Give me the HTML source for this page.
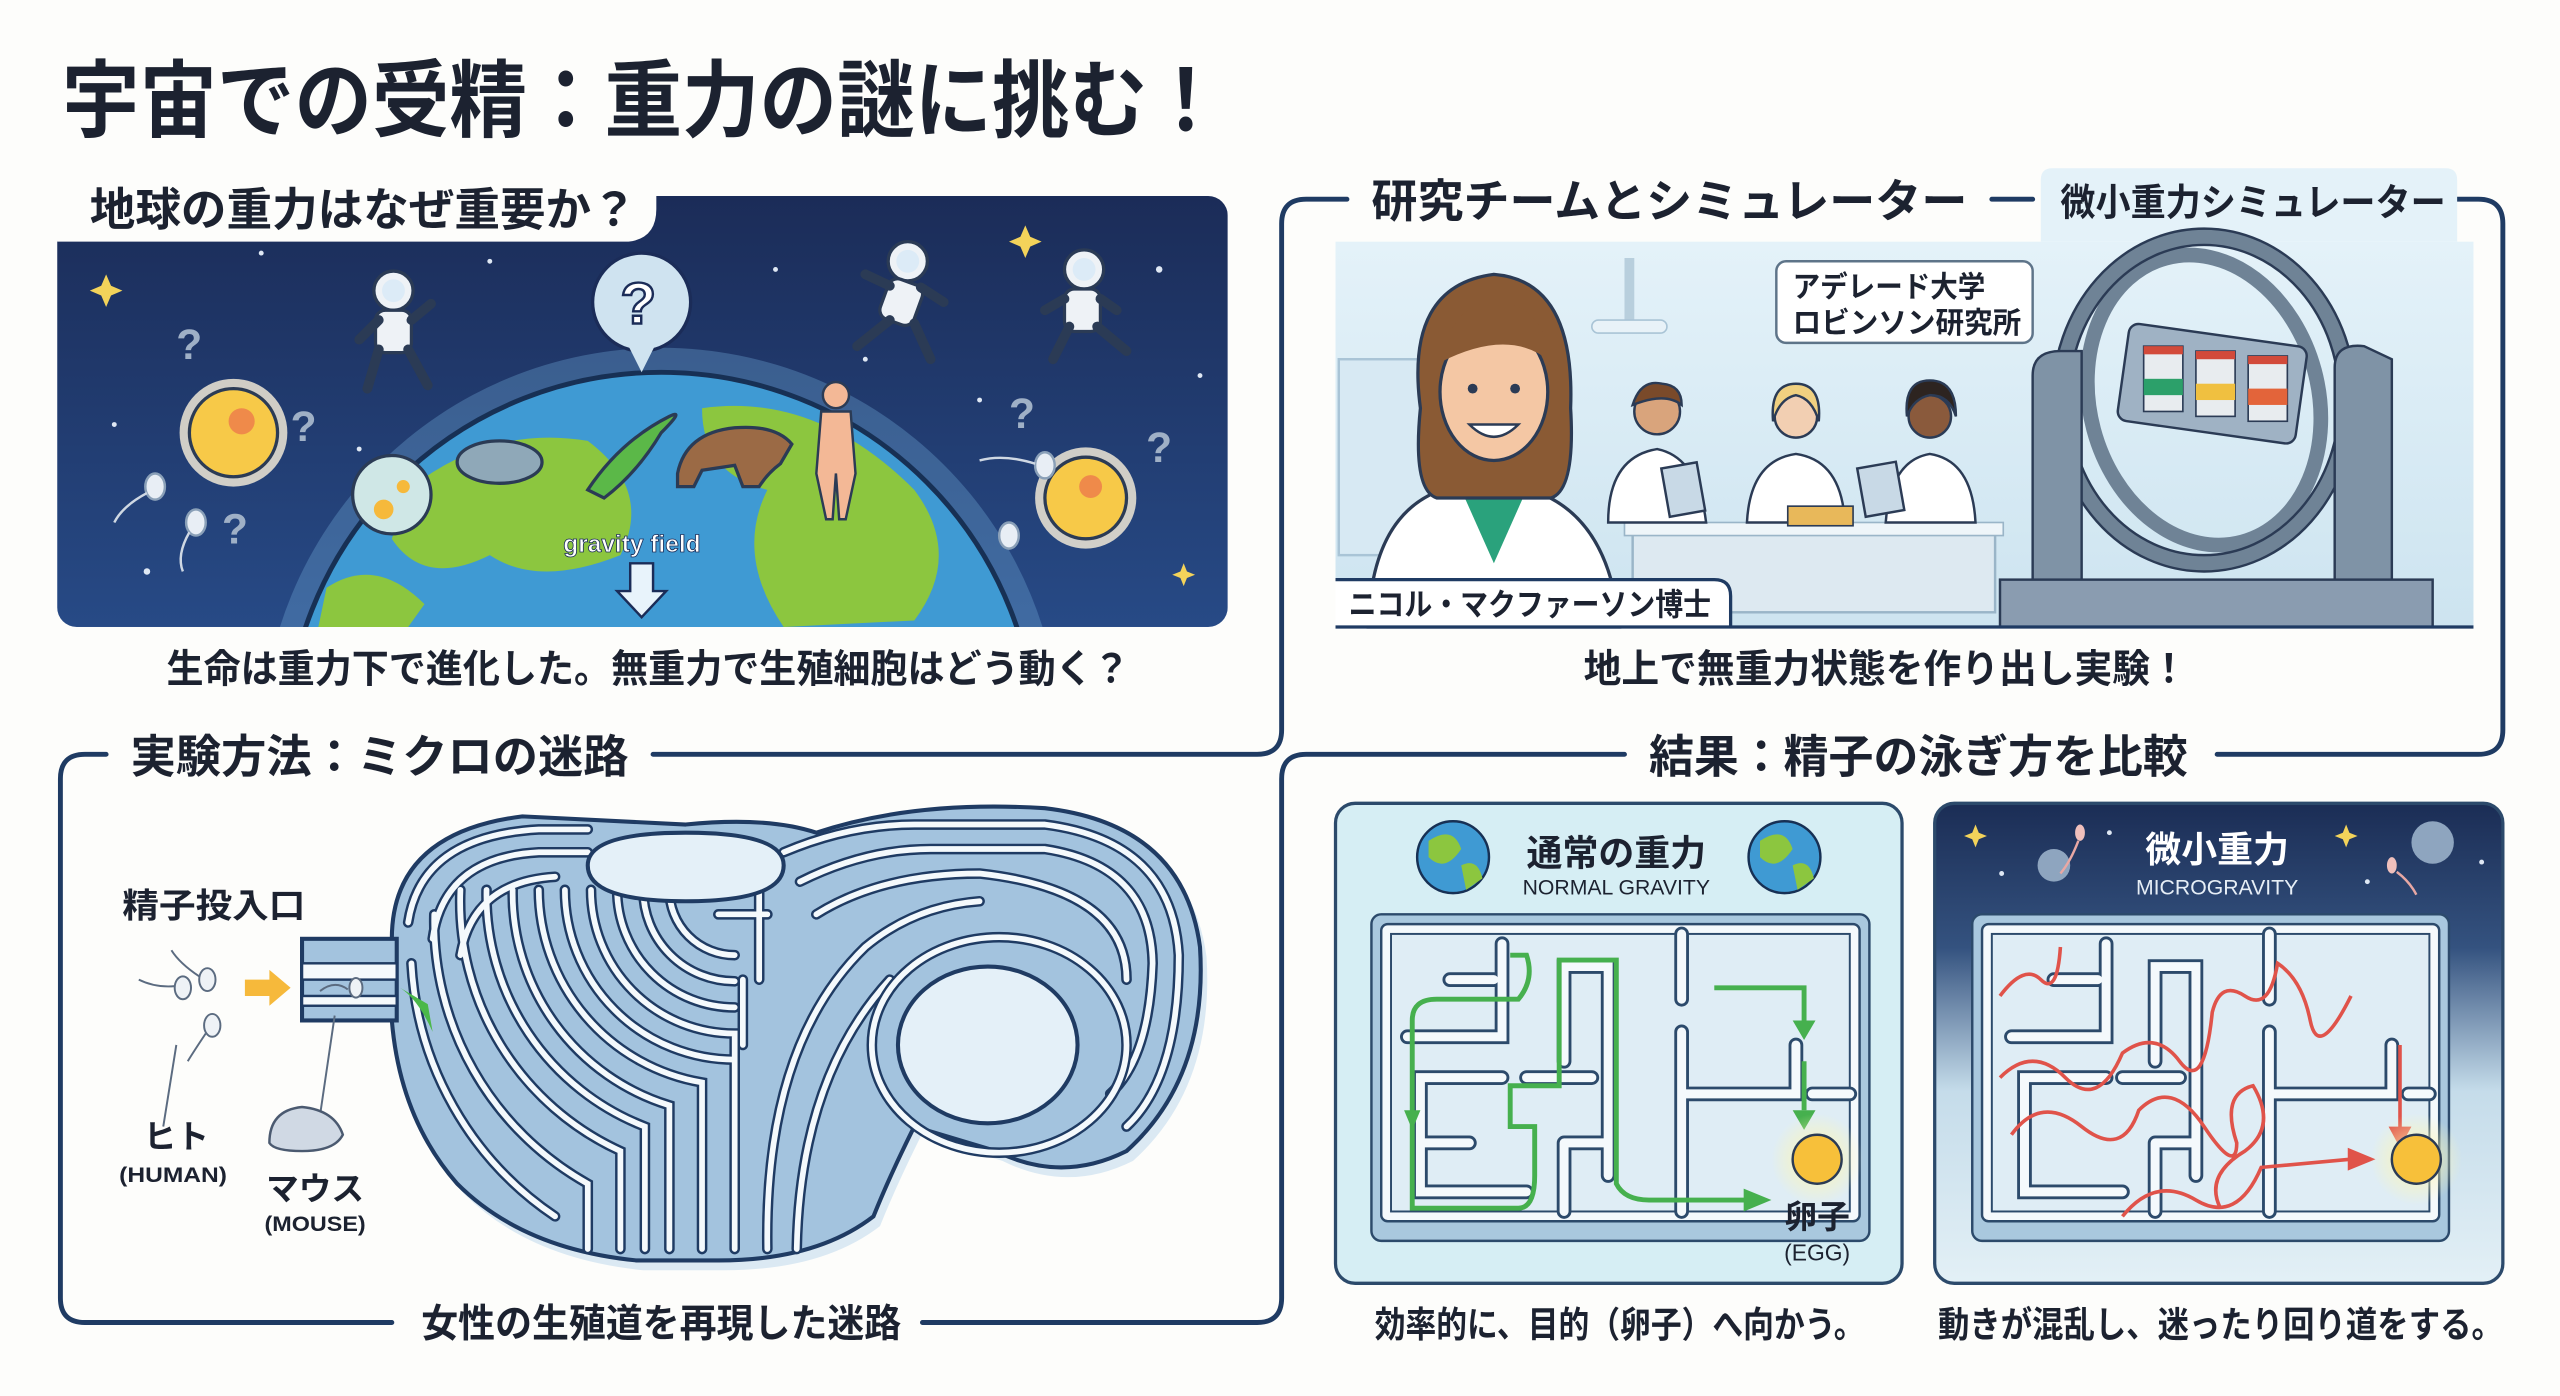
<!DOCTYPE html>
<html><head><meta charset="utf-8"><style>
html,body{margin:0;padding:0;background:#fdfdfb;}
svg{display:block}
text{font-family:"Liberation Sans","Noto Sans CJK JP",sans-serif;font-weight:bold;fill:#1c2230}
</style></head><body>
<svg width="2560" height="1396" viewBox="0 0 1568 855" xmlns="http://www.w3.org/2000/svg">
<defs>
<linearGradient id="space" x1="0" y1="0" x2="0" y2="1"><stop offset="0" stop-color="#1b2c58"/><stop offset="1" stop-color="#274a86"/></linearGradient>
<linearGradient id="lab" x1="0" y1="0" x2="0" y2="1"><stop offset="0" stop-color="#e4f2f9"/><stop offset="1" stop-color="#cde4f0"/></linearGradient>
<linearGradient id="micro" x1="0" y1="0" x2="0" y2="1"><stop offset="0" stop-color="#1b2d55"/><stop offset="0.3" stop-color="#34527f"/><stop offset="0.6" stop-color="#c5dcea"/><stop offset="1" stop-color="#e3f0f6"/></linearGradient>
<radialGradient id="glow"><stop offset="0" stop-color="#fff7b0"/><stop offset="1" stop-color="#fff7b0" stop-opacity="0"/></radialGradient>
<clipPath id="p1"><rect x="35" y="120" width="717" height="264" rx="12"/></clipPath>
</defs>
<rect width="1568" height="855" fill="#fdfdfb"/>

<text x="38" y="80" font-size="52" textLength="712" lengthAdjust="spacingAndGlyphs">宇宙での受精：重力の謎に挑む！</text>

<!-- Panel 1 -->
<g clip-path="url(#p1)">
<rect x="35" y="120" width="717" height="264" fill="url(#space)"/>
<circle cx="405" cy="458" r="245" fill="#6fa8d8" opacity="0.35"/>
<circle cx="405" cy="458" r="230" fill="#3f9ad3" stroke="#173054" stroke-width="3"/>
<path d="M250 300 Q300 260 360 270 Q400 300 380 340 Q330 360 300 340 Q260 360 240 330 Z" fill="#8cc63f"/>
<path d="M430 250 Q500 240 560 300 Q590 340 560 380 L480 384 Q450 340 470 300 Q430 290 430 250Z" fill="#8cc63f"/>
<path d="M200 360 Q230 340 260 370 L250 384 L195 384Z" fill="#8cc63f"/>
<circle cx="240" cy="303" r="24" fill="#cfe7e6" stroke="#2b3b55" stroke-width="2"/>
<circle cx="235" cy="312" r="6" fill="#f6b93b"/><circle cx="247" cy="298" r="4" fill="#f6b93b"/>
<ellipse cx="306" cy="283" rx="26" ry="13" fill="#8fa8b8" stroke="#2b3b55" stroke-width="2"/>
<path d="M360 300 Q380 270 410 255 Q420 250 405 265 Q390 290 370 305 Z" fill="#5bb848" stroke="#2b3b55" stroke-width="2"/>
<path d="M415 290 Q420 265 450 262 Q475 260 485 272 L478 284 Q470 290 465 298 L455 298 L450 285 L430 288 L425 298 L415 298Z" fill="#9b6a45" stroke="#2b3b55" stroke-width="2"/>
<circle cx="512" cy="242" r="8" fill="#f3b896" stroke="#2b3b55" stroke-width="1.5"/>
<path d="M503 252 H521 L524 290 L518 318 H514 L512 290 L510 318 H506 L500 290Z" fill="#f3b896" stroke="#2b3b55" stroke-width="1.5"/>
<text x="345" y="338" font-size="15" style="fill:#fff" stroke="#1b2c58" stroke-width="0.5">gravity field</text>
<path d="M386 345 H400 V362 H408 L393 378 L378 362 H386Z" fill="#e8f3fb" stroke="#1b2c58" stroke-width="1.5"/>
</g>
<path d="M30 100 H388 Q402 100 402 114 V128 Q402 146 385 148 L35 148 Z" fill="#fdfdfb"/>
<text x="55" y="138" font-size="28" textLength="335" lengthAdjust="spacingAndGlyphs">地球の重力はなぜ重要か？</text>
<circle cx="393" cy="185" r="30" fill="#cfe3f0" stroke="#1b2c58" stroke-width="2"/>
<path d="M385 212 L393 228 L401 212Z" fill="#cfe3f0"/>
<text x="380" y="198" font-size="36" style="fill:#fff" stroke="#1b2c58" stroke-width="1.5">?</text>
<circle cx="143" cy="265" r="33" fill="#fdf3dc" opacity="0.8"/>
<circle cx="143" cy="265" r="27" fill="#f7c948" stroke="#2b3b55" stroke-width="2"/>
<circle cx="148" cy="258" r="8" fill="#ef8a4a"/>
<circle cx="665" cy="305" r="31" fill="#fdf3dc" opacity="0.8"/>
<circle cx="665" cy="305" r="25" fill="#f7c948" stroke="#2b3b55" stroke-width="2"/>
<circle cx="668" cy="298" r="7" fill="#ef8a4a"/>
<g fill="#e8eef5" stroke="#8aa0b8" stroke-width="1.5">
<ellipse cx="95" cy="298" rx="6" ry="8"/><ellipse cx="120" cy="320" rx="6" ry="8"/><ellipse cx="640" cy="285" rx="6" ry="8"/><ellipse cx="618" cy="328" rx="6" ry="8"/></g>
<g fill="none" stroke="#cfd8e3" stroke-width="1.5">
<path d="M90 302 Q75 310 70 320"/><path d="M116 326 Q108 340 112 350"/><path d="M634 284 Q615 278 600 282"/></g>
<g fill="#eef2f6" stroke="#2b3b55" stroke-width="2">
<circle cx="241" cy="178" r="12"/><rect x="230" y="190" width="22" height="26" rx="6"/><path d="M232 214 L225 238 M250 214 L262 236 M232 196 L220 208 M252 196 L264 186" stroke-width="6" stroke-linecap="round"/>
<circle cx="556" cy="160" r="12"/><rect x="541" y="172" width="22" height="26" rx="6" transform="rotate(20 552 185)"/><path d="M545 196 L525 212 M560 198 L570 220 M545 175 L530 168 M564 176 L578 185" stroke-width="6" stroke-linecap="round"/>
<circle cx="664" cy="165" r="12"/><rect x="652" y="177" width="22" height="26" rx="6"/><path d="M655 200 L645 220 M672 200 L690 215 M652 183 L640 190 M674 183 L684 190" stroke-width="6" stroke-linecap="round"/>
</g>
<g fill="#dcebf7"><circle cx="241" cy="178" r="7"/><circle cx="556" cy="160" r="7"/><circle cx="664" cy="165" r="7"/></g>
<g font-size="26">
<text x="108" y="220" style="fill:#9fb0c6">?</text><text x="178" y="270" style="fill:#9fb0c6">?</text><text x="136" y="333" style="fill:#9fb0c6">?</text>
<text x="618" y="262" style="fill:#9fb0c6">?</text><text x="702" y="283" style="fill:#9fb0c6">?</text></g>
<g fill="#f3d35a"><path d="M65 168 l3 7 7 3 -7 3 -3 7 -3 -7 -7 -3 7 -3z"/><path d="M628 138 l3 7 7 3 -7 3 -3 7 -3 -7 -7 -3 7 -3z"/><path d="M725 345 l2 5 5 2 -5 2 -2 5 -2 -5 -5 -2 5 -2z"/></g>
<g fill="#dfe8f4"><circle cx="300" cy="160" r="1.5"/><circle cx="475" cy="165" r="1.5"/><circle cx="710" cy="165" r="2"/><circle cx="600" cy="245" r="1.5"/><circle cx="70" cy="260" r="1.5"/><circle cx="160" cy="155" r="1.5"/><circle cx="220" cy="275" r="1.5"/><circle cx="90" cy="350" r="2"/><circle cx="735" cy="230" r="1.5"/><circle cx="530" cy="220" r="1.5"/></g>

<text x="102" y="418" font-size="24" textLength="590" lengthAdjust="spacingAndGlyphs">生命は重力下で進化した。無重力で生殖細胞はどう動く？</text>

<g fill="none" stroke="#1f3b63" stroke-width="3" stroke-linecap="round">
<path d="M825 122 H800 Q785 122 785 137 V447 Q785 462 770 462 H400"/>
<path d="M1220 122 H1245"/>
<path d="M1505 122 H1518 Q1533 122 1533 137 V447 Q1533 462 1518 462 H1358"/>
<path d="M65 462 H52 Q37 462 37 477 V795 Q37 810 52 810 H240"/>
<path d="M565 810 H770 Q785 810 785 795 V477 Q785 462 800 462 H995"/>
</g>

<!-- Panel 2 -->
<rect x="818" y="148" width="697" height="236" fill="url(#lab)"/>
<path d="M1250 148 V110 Q1250 103 1257 103 H1498 Q1505 103 1505 110 V148Z" fill="#e4f2f9"/>
<text x="840" y="133" font-size="28" textLength="365" lengthAdjust="spacingAndGlyphs">研究チームとシミュレーター</text>
<text x="1262" y="132" font-size="23" textLength="236" lengthAdjust="spacingAndGlyphs">微小重力シミュレーター</text>
<rect x="820" y="220" width="85" height="120" fill="#d7e9f3" stroke="#a9c4d6" stroke-width="1.5"/>
<rect x="995" y="158" width="6" height="40" fill="#b8cfdd"/><rect x="975" y="196" width="46" height="8" rx="4" fill="#e8f2f8" stroke="#a9c4d6"/>
<rect x="1000" y="325" width="222" height="50" fill="#dde9f1" stroke="#9ab5c8" stroke-width="1.5"/>
<rect x="995" y="320" width="232" height="8" fill="#eef5f9" stroke="#9ab5c8"/>
<g stroke="#2b3b55" stroke-width="1.5">
<path d="M985 320 Q985 280 1015 275 Q1040 280 1045 320Z" fill="#fff"/><circle cx="1015" cy="252" r="14" fill="#d9a47c"/><path d="M1000 248 Q1005 232 1018 235 Q1030 236 1030 248 Q1020 240 1000 248Z" fill="#7a4a2a"/>
<path d="M1070 320 Q1072 282 1100 278 Q1128 282 1130 320Z" fill="#fff"/><circle cx="1100" cy="255" r="13" fill="#f2cfb2"/><path d="M1086 258 Q1084 235 1100 235 Q1116 235 1114 258 Q1110 244 1100 242 Q1090 244 1086 258Z" fill="#f0d080"/>
<path d="M1155 320 Q1158 282 1182 278 Q1208 282 1210 320Z" fill="#fff"/><circle cx="1182" cy="255" r="13" fill="#8a5a3c"/><path d="M1168 255 Q1166 233 1182 233 Q1198 233 1198 255 Q1194 242 1182 242 Q1172 244 1168 255Z" fill="#2d2420"/>
<rect x="1020" y="285" width="22" height="30" fill="#c8d9e6" transform="rotate(-10 1030 300)"/>
<rect x="1140" y="285" width="24" height="30" fill="#c8d9e6" transform="rotate(-10 1150 300)"/>
</g>
<rect x="1095" y="310" width="40" height="12" fill="#e8b85a" stroke="#2b3b55"/>
<path d="M838 384 Q840 310 890 298 L930 298 Q985 310 992 384Z" fill="#fff" stroke="#2b3b55" stroke-width="2"/>
<path d="M895 300 L915 345 L935 300Z" fill="#2aa27c"/>
<path d="M870 250 Q860 175 915 168 Q965 172 962 250 Q965 300 950 305 L880 305 Q865 300 870 250Z" fill="#8a5a34" stroke="#2b3b55" stroke-width="2"/>
<ellipse cx="915" cy="240" rx="33" ry="42" fill="#f4c7a4" stroke="#2b3b55" stroke-width="2"/>
<path d="M882 222 Q890 185 915 185 Q945 185 950 222 Q925 200 882 222Z" fill="#8a5a34"/>
<circle cx="902" cy="238" r="3" fill="#2b3b55"/><circle cx="928" cy="238" r="3" fill="#2b3b55"/>
<path d="M900 260 Q915 275 930 260Z" fill="#fff" stroke="#2b3b55" stroke-width="1.5"/>
<g fill="none" stroke="#6f8396" stroke-width="9">
<ellipse cx="1350" cy="245" rx="88" ry="100"/><ellipse cx="1350" cy="245" rx="70" ry="90" transform="rotate(-15 1350 245)"/>
</g>
<g fill="none" stroke="#2b3b55" stroke-width="1.5"><ellipse cx="1350" cy="245" rx="93" ry="105"/><ellipse cx="1350" cy="245" rx="83" ry="95"/></g>
<path d="M1245 384 V230 Q1245 215 1262 215 H1275 V384Z M1430 384 V225 Q1430 210 1448 212 L1465 220 V384Z" fill="#7f93a6" stroke="#2b3b55" stroke-width="1.5"/>
<rect x="1225" y="355" width="265" height="29" fill="#8a9cb0" stroke="#2b3b55" stroke-width="1.5"/>
<rect x="1300" y="205" width="110" height="60" rx="6" fill="#9fb2c4" stroke="#2b3b55" stroke-width="1.5" transform="rotate(8 1355 235)"/>
<g stroke="#2b3b55" stroke-width="1"><rect x="1313" y="212" width="24" height="40" fill="#e8ecef"/><rect x="1345" y="215" width="24" height="40" fill="#e8ecef"/><rect x="1377" y="218" width="24" height="40" fill="#e8ecef"/></g>
<rect x="1313" y="212" width="24" height="5" fill="#d24a3a"/><rect x="1345" y="215" width="24" height="5" fill="#d24a3a"/><rect x="1377" y="218" width="24" height="5" fill="#d24a3a"/>
<rect x="1313" y="232" width="24" height="10" fill="#2ca06a"/><rect x="1345" y="235" width="24" height="10" fill="#f0c040"/><rect x="1377" y="238" width="24" height="10" fill="#e3643a"/>
<path d="M818 355 H1050 Q1060 355 1060 365 V384 H818Z" fill="#fff"/>
<path d="M818 355 H1050 Q1060 355 1060 365 V384" fill="none" stroke="#1f3b63" stroke-width="2"/>
<line x1="818" y1="384" x2="1515" y2="384" stroke="#1f3b63" stroke-width="2"/>
<text x="826" y="377" font-size="19" textLength="222" lengthAdjust="spacingAndGlyphs">ニコル・マクファーソン博士</text>
<rect x="1088" y="160" width="157" height="50" rx="6" fill="#fff" stroke="#5e7489" stroke-width="1.5"/>
<text x="1098" y="182" font-size="18" textLength="118" lengthAdjust="spacingAndGlyphs">アデレード大学</text>
<text x="1098" y="204" font-size="18" textLength="140" lengthAdjust="spacingAndGlyphs">ロビンソン研究所</text>

<text x="970" y="418" font-size="24" textLength="370" lengthAdjust="spacingAndGlyphs">地上で無重力状態を作り出し実験！</text>

<!-- Section 3 -->
<text x="80" y="473" font-size="28" textLength="305" lengthAdjust="spacingAndGlyphs">実験方法：ミクロの迷路</text>
<text x="75" y="562" font-size="21" textLength="112" lengthAdjust="spacingAndGlyphs">精子投入口</text>
<path d="M240 575 Q240 510 320 500 L420 505 Q470 500 500 510 Q560 490 640 495 Q725 505 735 580 Q740 660 690 705 Q650 725 610 705 L560 690 Q545 720 535 745 Q500 772 440 772 L390 772 Q320 765 280 725 Q245 685 240 625Z" fill="#dbe9f3" transform="translate(4 6)"/>
<path d="M240 575 Q240 510 320 500 L420 505 Q470 500 500 510 Q560 490 640 495 Q725 505 735 580 Q740 660 690 705 Q650 725 610 705 L560 690 Q545 720 535 745 Q500 772 440 772 L390 772 Q320 765 280 725 Q245 685 240 625Z" fill="#a3c3de" stroke="#1f3b63" stroke-width="2.5"/>
<g id="mw" fill="none" stroke-linecap="round">
<path d="M410 545 A40 40 0 0 0 450 585"/><path d="M394 545 A56 56 0 0 0 450 601"/><path d="M378 545 A72 72 0 0 0 450 617"/>
<path d="M362 545 A88 88 0 0 0 450 633 V765"/><path d="M346 545 A104 104 0 0 0 450 649"/><path d="M330 545 A120 120 0 0 0 430 663 V765"/>
<path d="M314 545 A136 136 0 0 0 410 677 V765"/><path d="M298 545 A152 152 0 0 0 395 690 V765"/><path d="M282 545 A168 168 0 0 0 380 705 V765"/>
<path d="M266 560 A184 184 0 0 0 360 725 V765"/><path d="M252 590 A200 200 0 0 0 340 745"/>
<path d="M250 565 Q258 512 330 508 H360"/><path d="M265 575 Q272 525 330 522 H360"/><path d="M282 585 Q290 540 340 537"/>
<path d="M480 522 Q520 505 560 505 H640 Q718 515 722 585 Q722 660 690 690"/><path d="M490 540 Q530 520 570 520 H640 Q705 530 706 590 Q704 648 680 670"/>
<path d="M500 560 Q540 535 600 535 Q690 545 690 600"/>
<path d="M470 765 Q468 640 530 580 Q560 555 600 552"/><path d="M488 765 Q490 660 545 600"/>
<path d="M465 545 V600 M440 560 H470 M455 600 V640"/>
</g>
<use href="#mw" stroke="#1f3b63" stroke-width="6.5"/>
<g fill="none" stroke="#f4f9fc" stroke-width="3.5" stroke-linecap="round">
<path d="M410 545 A40 40 0 0 0 450 585"/><path d="M394 545 A56 56 0 0 0 450 601"/><path d="M378 545 A72 72 0 0 0 450 617"/>
<path d="M362 545 A88 88 0 0 0 450 633 V765"/><path d="M346 545 A104 104 0 0 0 450 649"/><path d="M330 545 A120 120 0 0 0 430 663 V765"/>
<path d="M314 545 A136 136 0 0 0 410 677 V765"/><path d="M298 545 A152 152 0 0 0 395 690 V765"/><path d="M282 545 A168 168 0 0 0 380 705 V765"/>
<path d="M266 560 A184 184 0 0 0 360 725 V765"/><path d="M252 590 A200 200 0 0 0 340 745"/>
<path d="M250 565 Q258 512 330 508 H360"/><path d="M265 575 Q272 525 330 522 H360"/><path d="M282 585 Q290 540 340 537"/>
<path d="M480 522 Q520 505 560 505 H640 Q718 515 722 585 Q722 660 690 690"/><path d="M490 540 Q530 520 570 520 H640 Q705 530 706 590 Q704 648 680 670"/>
<path d="M500 560 Q540 535 600 535 Q690 545 690 600"/>
<path d="M470 765 Q468 640 530 580 Q560 555 600 552"/><path d="M488 765 Q490 660 545 600"/>
<path d="M465 545 V600 M440 560 H470 M455 600 V640"/>
</g>
<path d="M360 530 Q360 510 420 510 Q480 510 480 530 Q480 552 420 552 Q360 552 360 530Z" fill="#e4f0f8" stroke="#1f3b63" stroke-width="2.5"/>
<ellipse cx="612" cy="640" rx="78" ry="66" fill="none" stroke="#1f3b63" stroke-width="6.5"/>
<ellipse cx="612" cy="640" rx="78" ry="66" fill="none" stroke="#f4f9fc" stroke-width="3.5"/>
<ellipse cx="605" cy="640" rx="55" ry="48" fill="#e4f0f8" stroke="#1f3b63" stroke-width="2.5"/>
<rect x="185" y="575" width="58" height="50" fill="#a3c3de" stroke="#1f3b63" stroke-width="2.5"/>
<rect x="185" y="590" width="58" height="10" fill="#f4f9fc" stroke="#1f3b63" stroke-width="1.5"/>
<rect x="185" y="610" width="58" height="6" fill="#f4f9fc" stroke="#1f3b63" stroke-width="1.5"/>
<path d="M245 605 Q256 612 265 632 L262 615Z" fill="#4bb84a"/>
<path d="M150 600 H165 V594 L178 605 L165 616 V610 H150Z" fill="#f6b93b"/>
<g fill="#eef2f6" stroke="#5b6b80" stroke-width="1.2">
<ellipse cx="127" cy="600" rx="5" ry="7"/><ellipse cx="130" cy="628" rx="5" ry="7"/><ellipse cx="112" cy="605" rx="5" ry="7"/><ellipse cx="218" cy="605" rx="4" ry="6"/></g>
<g fill="none" stroke="#5b6b80" stroke-width="1.2"><path d="M122 598 Q110 590 105 582"/><path d="M107 604 Q95 605 85 600"/><path d="M126 633 Q118 645 115 650"/><path d="M213 606 Q205 600 196 607"/>
<path d="M108 640 L100 690"/><path d="M205 622 L195 690"/></g>
<path d="M165 700 Q165 680 185 678 Q205 680 210 695 Q205 705 185 705 Q168 705 165 700Z" fill="#d0d9e4" stroke="#4b5a70" stroke-width="1.5"/>
<text x="88" y="703" font-size="20">ヒト</text>
<text x="73" y="724" font-size="13" textLength="66" lengthAdjust="spacingAndGlyphs">(HUMAN)</text>
<text x="163" y="735" font-size="20" textLength="60" lengthAdjust="spacingAndGlyphs">マウス</text>
<text x="162" y="754" font-size="13" textLength="62" lengthAdjust="spacingAndGlyphs">(MOUSE)</text>
<text x="258" y="819" font-size="24" textLength="294" lengthAdjust="spacingAndGlyphs">女性の生殖道を再現した迷路</text>

<!-- Section 4 -->
<text x="1010" y="473" font-size="28" textLength="330" lengthAdjust="spacingAndGlyphs">結果：精子の泳ぎ方を比較</text>
<rect x="818" y="492" width="347" height="294" rx="12" fill="#d6eef4" stroke="#2c4a6b" stroke-width="2"/>
<circle cx="890" cy="525" r="22" fill="#3f9ad3" stroke="#173054" stroke-width="1.5"/><path d="M875 515 Q890 505 895 520 Q885 535 875 525Z M895 530 Q905 525 908 538 L898 545Z" fill="#8cc63f"/>
<circle cx="1093" cy="525" r="22" fill="#3f9ad3" stroke="#173054" stroke-width="1.5"/><path d="M1078 515 Q1093 505 1098 520 Q1088 535 1078 525Z M1098 530 Q1108 525 1111 538 L1101 545Z" fill="#8cc63f"/>
<text x="990" y="530" font-size="22" text-anchor="middle">通常の重力</text>
<text x="990" y="548" font-size="13" text-anchor="middle" style="font-weight:normal">NORMAL GRAVITY</text>
<g>
<rect x="840" y="560" width="305" height="200" rx="6" fill="#a9c8de" stroke="#2c4a6b" stroke-width="1.5"/>
<rect x="846" y="566" width="293" height="182" rx="4" fill="#f4f9fc" stroke="#2c4a6b" stroke-width="1.5"/>
<rect x="852" y="572" width="281" height="170" fill="#dfedf5" stroke="#2c4a6b" stroke-width="1.2"/>
<g fill="none" stroke="#2c4a6b" stroke-width="9" stroke-linecap="round"><path d="M888 600 H915 M862 635 H920 V578 M920 660 H870 V730 H935 M870 700 H900 M958 650 V592 H985 V720 M935 660 H975 M1030 572 V612 M1030 632 V742 M1030 670 H1075 M958 700 V742 M958 700 H985 M1075 670 H1100 V640 M1133 670 H1110"/></g>
<g fill="none" stroke="#f4f9fc" stroke-width="5.5" stroke-linecap="round"><path d="M888 600 H915 M862 635 H920 V578 M920 660 H870 V730 H935 M870 700 H900 M958 650 V592 H985 V720 M935 660 H975 M1030 572 V612 M1030 632 V742 M1030 670 H1075 M958 700 V742 M958 700 H985 M1075 670 H1100 V640 M1133 670 H1110"/></g>
<g fill="none" stroke="#46b04e" stroke-width="3"><path d="M925 585 H935 Q940 600 930 612 H880 Q865 612 865 625 V740 H930 Q940 740 940 720 V690 H925 V665 H955 V588 H990 V725 Q995 735 1010 735 H1070"/><path d="M1050 605 H1105 V625"/><path d="M1105 650 V680"/></g>
<path d="M1068 728 L1085 735 L1068 742Z M1098 625 H1112 L1105 637Z M1098 680 H1112 L1105 692Z M860 680 L865 692 L870 680Z" fill="#46b04e"/>
</g>
<circle cx="1113" cy="710" r="28" fill="url(#glow)"/>
<circle cx="1113" cy="710" r="15" fill="#f7c03a" stroke="#2b3b55" stroke-width="1.5"/>
<text x="1113" y="752" font-size="20" text-anchor="middle">卵子</text>
<text x="1113" y="772" font-size="14" text-anchor="middle" style="font-weight:normal">(EGG)</text>

<rect x="1185" y="492" width="348" height="294" rx="12" fill="url(#micro)" stroke="#2c4a6b" stroke-width="2"/>
<text x="1358" y="528" font-size="22" text-anchor="middle" style="fill:#fff">微小重力</text>
<text x="1358" y="548" font-size="13" text-anchor="middle" style="fill:#e6eef6;font-weight:normal">MICROGRAVITY</text>
<circle cx="1258" cy="530" r="10" fill="#8ea5bf"/><circle cx="1490" cy="516" r="13" fill="#8ea5bf"/>
<g fill="#f0c0bc"><ellipse cx="1274" cy="510" rx="3" ry="5"/><ellipse cx="1465" cy="530" rx="3" ry="5"/></g>
<g fill="none" stroke="#e8a8a4" stroke-width="1.5"><path d="M1273 515 Q1268 528 1262 535"/><path d="M1468 534 Q1476 540 1480 548"/></g>
<g fill="#f3d35a"><path d="M1210 505 l2 5 5 2 -5 2 -2 5 -2 -5 -5 -2 5 -2z"/><path d="M1437 505 l2 5 5 2 -5 2 -2 5 -2 -5 -5 -2 5 -2z"/></g>
<g fill="#dfe8f4"><circle cx="1292" cy="510" r="1.5"/><circle cx="1226" cy="535" r="1.5"/><circle cx="1520" cy="528" r="1.5"/><circle cx="1450" cy="540" r="1.5"/></g>
<g>
<rect x="1208" y="560" width="292" height="200" rx="6" fill="#a9c8de" stroke="#2c4a6b" stroke-width="1.5"/>
<rect x="1214" y="566" width="280" height="182" rx="4" fill="#f4f9fc" stroke="#2c4a6b" stroke-width="1.5"/>
<rect x="1220" y="572" width="268" height="170" fill="#dfedf5" stroke="#2c4a6b" stroke-width="1.2"/>
<g fill="none" stroke="#2c4a6b" stroke-width="9" stroke-linecap="round"><path d="M1258 600 H1285 M1232 635 H1290 V578 M1290 660 H1240 V730 H1300 M1320 650 V592 H1345 V720 M1300 660 H1335 M1390 572 V612 M1390 632 V742 M1390 670 H1440 M1320 700 V742 M1320 700 H1345 M1440 670 H1465 V640 M1488 670 H1475"/></g>
<g fill="none" stroke="#f4f9fc" stroke-width="5.5" stroke-linecap="round"><path d="M1258 600 H1285 M1232 635 H1290 V578 M1290 660 H1240 V730 H1300 M1320 650 V592 H1345 V720 M1300 660 H1335 M1390 572 V612 M1390 632 V742 M1390 670 H1440 M1320 700 V742 M1320 700 H1345 M1440 670 H1465 V640 M1488 670 H1475"/></g>
<g fill="none" stroke="#e0534a" stroke-width="2.2"><path d="M1225 610 Q1240 590 1250 600 T1262 580 M1225 660 Q1245 640 1265 660 T1300 645 Q1320 630 1335 650 T1355 620 Q1360 600 1375 610 T1395 590 Q1410 600 1415 625 T1440 610 M1232 695 Q1250 670 1275 690 T1310 680 Q1330 660 1350 690 T1370 700 Q1360 670 1380 665 Q1395 690 1375 705 Q1350 720 1360 740 M1300 745 Q1320 720 1345 735 T1385 715 L1440 710"/><path d="M1470 640 V695"/></g>
<path d="M1438 703 L1455 710 L1438 717Z M1463 690 H1477 L1470 703Z" fill="#e0534a"/>
</g>
<circle cx="1480" cy="710" r="28" fill="url(#glow)"/>
<circle cx="1480" cy="710" r="15" fill="#f7c03a" stroke="#2b3b55" stroke-width="1.5"/>

<text x="842" y="819" font-size="22" textLength="300" lengthAdjust="spacingAndGlyphs">効率的に、目的（卵子）へ向かう。</text>
<text x="1187" y="819" font-size="22" textLength="346" lengthAdjust="spacingAndGlyphs">動きが混乱し、迷ったり回り道をする。</text>
</svg>
</body></html>
